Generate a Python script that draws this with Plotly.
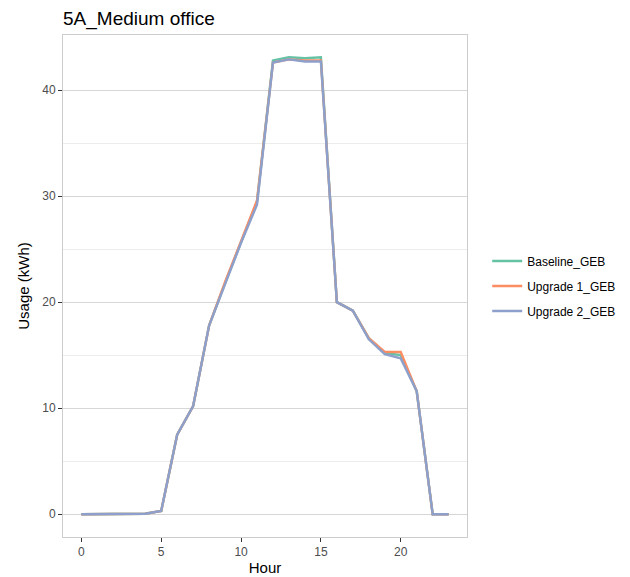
import plotly.graph_objects as go

hours = list(range(24))
baseline = [0, 0, 0, 0, 0.05, 0.3, 7.5, 10.2, 17.8, 21.8, 25.7, 29.5,
            42.8, 43.1, 43.0, 43.1, 20.0, 19.2, 16.6, 15.2, 15.0, 11.6, 0, 0]
upgrade1 = [0, 0, 0, 0, 0.05, 0.3, 7.5, 10.2, 17.8, 21.9, 25.8, 29.6,
            42.6, 42.9, 42.8, 42.8, 20.0, 19.2, 16.6, 15.3, 15.3, 11.6, 0, 0]
upgrade2 = [0, 0, 0, 0, 0.05, 0.3, 7.5, 10.2, 17.8, 21.7, 25.6, 29.2,
            42.6, 42.9, 42.7, 42.7, 20.0, 19.2, 16.5, 15.1, 14.7, 11.6, 0, 0]

series = [
    ("Baseline_GEB", baseline, "#66C2A5"),
    ("Upgrade 1_GEB", upgrade1, "#FC8D62"),
    ("Upgrade 2_GEB", upgrade2, "#8DA0CB"),
]

fig = go.Figure()
for name, values, color in series:
    fig.add_trace(go.Scatter(
        x=hours, y=values, mode="lines", name=name, legendgroup=name,
        line=dict(color=color, width=2.4),
    ))

# page body has an 8px margin, so the figure is a bit smaller than the window
fig.update_layout(
    width=622, height=569,
    margin=dict(l=55, r=163, t=27, b=40, autoexpand=False),
    paper_bgcolor="white", plot_bgcolor="white",
    font=dict(family="Liberation Sans, Arial, sans-serif", color="#4d4d4d", size=12),
    title=dict(text="5A_Medium office", x=0, xref="paper", xanchor="left",
               y=1 - 10 / 569, yref="container", yanchor="middle",
               font=dict(size=19, color="black")),
    legend=dict(x=1.05, y=0.5, xanchor="left", yanchor="middle",
                font=dict(size=12, color="black"), tracegroupgap=6),
    showlegend=True,
)
fig.update_xaxes(
    range=[-1.15, 24.15], tickvals=[0, 5, 10, 15, 20], showgrid=False, automargin=False,
    zeroline=False, showline=True, mirror=True, linecolor="#cccccc", linewidth=1,
    ticks="outside", ticklen=4, tickcolor="#333333",
    title=dict(text="Hour", font=dict(size=15, color="black"), standoff=4),
)
fig.update_yaxes(
    range=[-2.15, 45.2], tickvals=[0, 10, 20, 30, 40], showgrid=True, automargin=False,
    gridcolor="#d6d6d6", gridwidth=1, zeroline=False,
    showline=True, mirror=True, linecolor="#cccccc", linewidth=1,
    ticks="outside", ticklen=4, tickcolor="#333333",
    minor=dict(tickvals=[5, 15, 25, 35], showgrid=True, gridcolor="#ececec", gridwidth=1),
    title=dict(text="Usage (kWh)", font=dict(size=15, color="black"), standoff=8),
)

fig.write_html("out.html")
